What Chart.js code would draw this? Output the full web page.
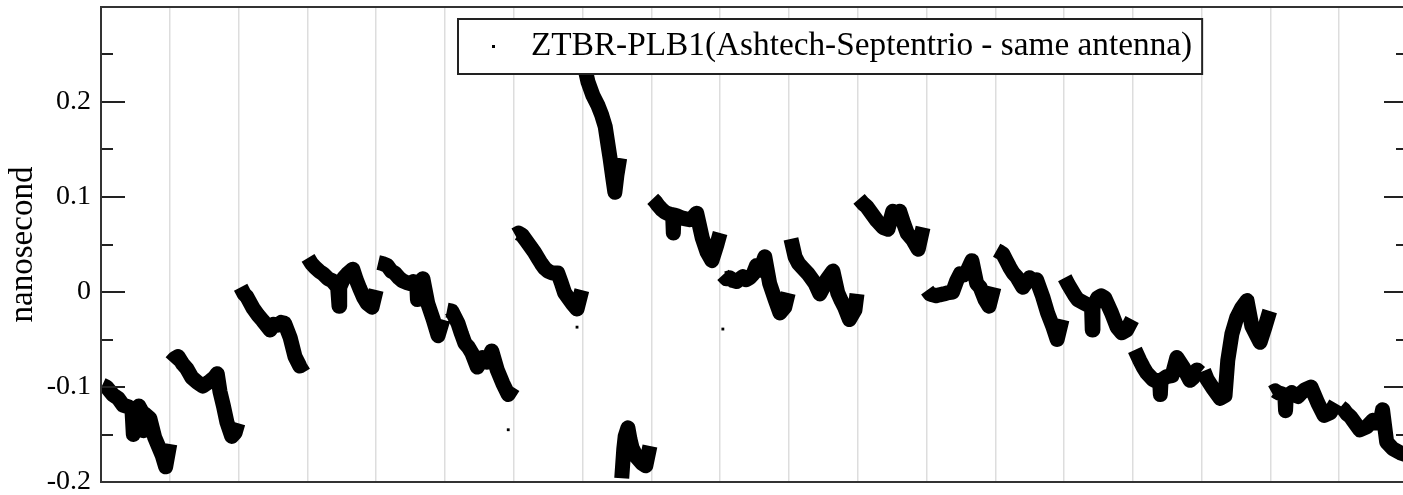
<!DOCTYPE html>
<html>
<head>
<meta charset="utf-8">
<script src="https://cdn.jsdelivr.net/npm/chart.js@4/dist/chart.umd.min.js"></script>
<style>
  html, body { margin: 0; padding: 0; background: #fff; overflow: hidden; }
  #wrap { width: 1420px; height: 495px; }
</style>
</head>
<body>
<div id="wrap"><canvas id="c" width="1420" height="495"></canvas></div>
<script>
// ---- Data: [time in days, offset in ns] ----
const seriesLabel = "ZTBR-PLB1(Ashtech-Septentrio - same antenna)";
const yTickValues = [-0.2, -0.1, 0, 0.1, 0.2];

const seg00 = [[0.02,-0.098],[0.08,-0.100],[0.17,-0.108],[0.25,-0.112],[0.32,-0.119],[0.40,-0.121],[0.45,-0.124],[0.47,-0.150],[0.48,-0.125],[0.55,-0.120],[0.61,-0.128],[0.62,-0.146],[0.63,-0.128],[0.71,-0.133],[0.78,-0.153],[0.85,-0.165],[0.89,-0.172],[0.94,-0.184],[1.00,-0.160]];
const seg01 = [[1.02,-0.074],[1.07,-0.070],[1.12,-0.068],[1.19,-0.076],[1.25,-0.081],[1.32,-0.090],[1.40,-0.095],[1.48,-0.099],[1.58,-0.094],[1.65,-0.090],[1.69,-0.086],[1.73,-0.105],[1.78,-0.120],[1.83,-0.137],[1.90,-0.152],[1.95,-0.148],[1.99,-0.138]];
const seg02 = [[2.03,0.005],[2.08,-0.002],[2.12,-0.005],[2.21,-0.017],[2.28,-0.024],[2.35,-0.030],[2.46,-0.040],[2.51,-0.034],[2.56,-0.035],[2.62,-0.032],[2.67,-0.033],[2.75,-0.048],[2.82,-0.068],[2.89,-0.078],[2.98,-0.074]];
const seg03 = [[3.01,0.036],[3.06,0.030],[3.11,0.026],[3.17,0.022],[3.23,0.019],[3.30,0.014],[3.36,0.012],[3.44,0.005],[3.46,-0.015],[3.47,0.005],[3.53,0.015],[3.58,0.019],[3.66,0.024],[3.71,0.013],[3.76,0.004],[3.82,-0.006],[3.87,-0.012],[3.94,-0.016],[4.00,0.002]];
const seg04 = [[4.03,0.031],[4.09,0.030],[4.16,0.028],[4.22,0.022],[4.27,0.020],[4.33,0.015],[4.38,0.012],[4.44,0.010],[4.49,0.009],[4.54,0.011],[4.59,0.008],[4.60,-0.008],[4.61,0.008],[4.68,0.014],[4.75,-0.012],[4.83,-0.029],[4.90,-0.046],[4.97,-0.029]];
const seg05 = [[5.03,-0.019],[5.10,-0.020],[5.19,-0.033],[5.24,-0.044],[5.29,-0.054],[5.34,-0.058],[5.39,-0.064],[5.47,-0.079],[5.54,-0.069],[5.61,-0.074],[5.68,-0.062],[5.76,-0.082],[5.84,-0.096],[5.92,-0.108],[5.99,-0.100]];
const seg06 = [[6.02,0.060],[6.07,0.062],[6.12,0.060],[6.18,0.054],[6.24,0.048],[6.30,0.042],[6.35,0.036],[6.40,0.030],[6.45,0.025],[6.50,0.022],[6.56,0.020],[6.64,0.020],[6.69,0.010],[6.74,-0.001],[6.80,-0.007],[6.85,-0.012],[6.92,-0.018],[6.99,0.002]];
const seg07a = [[7.02,0.240],[7.08,0.221],[7.15,0.207],[7.22,0.197],[7.28,0.186],[7.33,0.174],[7.37,0.155],[7.40,0.141],[7.44,0.120],[7.47,0.105],[7.50,0.123],[7.54,0.141]];
const seg07b = [[7.57,-0.196],[7.60,-0.165],[7.62,-0.152],[7.66,-0.143],[7.69,-0.155],[7.72,-0.164],[7.79,-0.174],[7.86,-0.180],[7.92,-0.183],[7.98,-0.162]];
const seg08 = [[8.02,0.098],[8.06,0.095],[8.10,0.091],[8.15,0.087],[8.20,0.084],[8.26,0.082],[8.31,0.081],[8.32,0.062],[8.33,0.081],[8.38,0.080],[8.44,0.078],[8.50,0.077],[8.56,0.076],[8.61,0.079],[8.66,0.083],[8.70,0.070],[8.74,0.057],[8.81,0.042],[8.88,0.033],[8.95,0.049],[9.00,0.062]];
const seg09 = [[9.04,0.018],[9.09,0.014],[9.14,0.015],[9.19,0.012],[9.24,0.011],[9.33,0.016],[9.38,0.013],[9.43,0.015],[9.48,0.019],[9.53,0.028],[9.58,0.023],[9.65,0.037],[9.72,0.009],[9.80,-0.008],[9.87,-0.022],[9.94,-0.016],[9.99,-0.001]];
const seg10 = [[10.03,0.056],[10.09,0.037],[10.14,0.030],[10.19,0.026],[10.28,0.019],[10.33,0.014],[10.38,0.009],[10.45,-0.002],[10.50,0.005],[10.55,0.013],[10.64,0.022],[10.71,-0.001],[10.76,-0.009],[10.81,-0.016],[10.88,-0.029],[10.96,-0.019],[10.99,-0.002]];
const seg11 = [[11.02,0.098],[11.08,0.093],[11.13,0.090],[11.18,0.085],[11.23,0.080],[11.28,0.075],[11.37,0.068],[11.44,0.066],[11.51,0.085],[11.56,0.083],[11.61,0.085],[11.67,0.072],[11.72,0.062],[11.80,0.055],[11.88,0.045],[11.95,0.068]];
const seg12 = [[12.01,0.002],[12.05,-0.002],[12.09,-0.003],[12.14,-0.004],[12.19,-0.003],[12.25,-0.002],[12.30,-0.001],[12.38,0.000],[12.44,0.012],[12.49,0.019],[12.54,0.018],[12.59,0.022],[12.66,0.033],[12.73,0.009],[12.78,0.005],[12.85,-0.008],[12.91,-0.015],[12.98,0.005]];
const seg13 = [[13.02,0.044],[13.07,0.042],[13.11,0.040],[13.16,0.033],[13.21,0.026],[13.26,0.020],[13.31,0.016],[13.40,0.005],[13.45,0.010],[13.50,0.015],[13.55,0.012],[13.60,0.013],[13.69,-0.005],[13.76,-0.022],[13.84,-0.037],[13.90,-0.050],[13.97,-0.029]];
const seg14 = [[14.01,0.015],[14.06,0.008],[14.11,0.002],[14.16,-0.004],[14.20,-0.008],[14.30,-0.012],[14.35,-0.014],[14.40,-0.016],[14.41,-0.040],[14.42,-0.016],[14.49,-0.006],[14.54,-0.004],[14.59,-0.006],[14.69,-0.022],[14.77,-0.037],[14.84,-0.043],[14.91,-0.040],[14.99,-0.029]];
const seg15 = [[15.03,-0.061],[15.10,-0.072],[15.15,-0.079],[15.20,-0.085],[15.29,-0.092],[15.34,-0.094],[15.39,-0.093],[15.40,-0.108],[15.41,-0.093],[15.49,-0.089],[15.57,-0.088],[15.64,-0.069],[15.73,-0.079],[15.83,-0.093],[15.88,-0.090],[15.93,-0.082],[15.98,-0.085]];
const seg16 = [[16.03,-0.083],[16.08,-0.092],[16.17,-0.102],[16.27,-0.112],[16.34,-0.109],[16.38,-0.072],[16.44,-0.044],[16.51,-0.027],[16.58,-0.017],[16.66,-0.009],[16.73,-0.036],[16.80,-0.046],[16.85,-0.053],[16.92,-0.037],[16.99,-0.020]];
const seg17 = [[17.02,-0.106],[17.07,-0.104],[17.11,-0.106],[17.16,-0.107],[17.21,-0.110],[17.22,-0.125],[17.23,-0.110],[17.31,-0.106],[17.35,-0.108],[17.40,-0.110],[17.45,-0.106],[17.50,-0.103],[17.59,-0.100],[17.69,-0.117],[17.78,-0.130],[17.87,-0.127],[17.95,-0.117]];
const seg18 = [[18.02,-0.121],[18.07,-0.124],[18.11,-0.128],[18.16,-0.131],[18.20,-0.135],[18.25,-0.140],[18.30,-0.145],[18.40,-0.142],[18.49,-0.135],[18.54,-0.138],[18.59,-0.138],[18.63,-0.124],[18.69,-0.158],[18.78,-0.165],[18.88,-0.169],[19.00,-0.172]];
const outliers = [[5.92,-0.145],[9.04,-0.039],[6.92,-0.037]];

const segments = [seg00,seg01,seg02,seg03,seg04,seg05,seg06,seg07a,seg07b,seg08,seg09,seg10,seg11,seg12,seg13,seg14,seg15,seg16,seg17,seg18];

const lineData = [];
segments.forEach((s, i) => {
  s.forEach(p => lineData.push({x: p[0], y: p[1]}));
  if (i < segments.length - 1) lineData.push({x: (s[s.length-1][0] + segments[i+1][0][0]) / 2, y: null});
});
const outlierData = outliers.map(p => ({x: p[0], y: p[1]}));

const SERIF = "'Liberation Serif', 'Times New Roman', serif";

const framePlugin = {
  id: 'frame',
  afterDraw(chart) {
    const ctx = chart.ctx, a = chart.chartArea, ys = chart.scales.y;
    ctx.save();
    // inner tick marks on left and right
    ctx.strokeStyle = '#222';
    ctx.lineWidth = 2;
    for (let k = -3; k <= 5; k++) {
      const v = k * 0.05;
      const y = Math.round(ys.getPixelForValue(v));
      const major = (k % 2 === 0);
      const len = major ? 24 : 12;
      ctx.beginPath();
      ctx.moveTo(a.left, y); ctx.lineTo(a.left + len, y);
      ctx.moveTo(a.right, y); ctx.lineTo(a.right - len, y);
      ctx.stroke();
    }
    // frame
    ctx.strokeStyle = '#333';
    ctx.lineWidth = 2;
    ctx.strokeRect(a.left, a.top, a.right - a.left, a.bottom - a.top);

    // legend box
    ctx.font = '33.3px ' + SERIF;
    const bx = a.left + 357, by = a.top + 12, bh = 55;
    const tx = bx + 73;
    const tw = ctx.measureText(seriesLabel).width;
    const bw = (tx - bx) + tw + 10;
    ctx.fillStyle = '#fff';
    ctx.fillRect(bx, by, bw, bh);
    ctx.strokeStyle = '#222';
    ctx.lineWidth = 2;
    ctx.strokeRect(bx, by, bw, bh);
    ctx.fillStyle = '#000';
    ctx.fillRect(bx + 34, by + 26, 3, 3);
    ctx.textBaseline = 'alphabetic';
    ctx.textAlign = 'left';
    ctx.fillText(seriesLabel, tx, by + 36);
    ctx.restore();
  }
};

new Chart(document.getElementById('c'), {
  type: 'line',
  data: {
    datasets: [
      {
        label: seriesLabel,
        data: lineData,
        borderColor: '#000',
        backgroundColor: '#000',
        borderWidth: 15,
        borderJoinStyle: 'round',
        borderCapStyle: 'butt',
        pointRadius: 0,
        tension: 0,
        spanGaps: false,
        fill: false
      },
      {
        label: 'outliers',
        data: outlierData,
        showLine: false,
        pointStyle: 'rect',
        pointRadius: 2,
        borderWidth: 0,
        backgroundColor: '#000',
        borderColor: '#000'
      }
    ]
  },
  options: {
    responsive: false,
    animation: false,
    devicePixelRatio: 1,
    layout: { padding: { left: 0, top: 7, right: 12, bottom: 13 } },
    plugins: { legend: { display: false }, tooltip: { enabled: false } },
    scales: {
      x: {
        type: 'linear',
        min: 0, max: 19,
        ticks: { display: false, stepSize: 1 },
        grid: { color: '#dddddd', lineWidth: 1.5, drawTicks: false },
        border: { display: false },
        afterFit(s) { s.height = 0; s.paddingLeft = 0; s.paddingRight = 0; s.paddingTop = 0; s.paddingBottom = 0; }
      },
      y: {
        min: -0.2, max: 0.3,
        afterBuildTicks(s) { s.ticks = yTickValues.map(v => ({value: v})); },
        ticks: {
          color: '#000',
          font: { family: SERIF, size: 28 },
          padding: 10,
          callback: (v) => String(Math.round(v * 10) / 10)
        },
        grid: { display: false, drawTicks: false },
        border: { display: false },
        title: {
          display: true,
          text: 'nanosecond',
          color: '#000',
          font: { family: SERIF, size: 33 },
          padding: { top: 4, bottom: 0 }
        },
        afterFit(s) { s.width = 101; s.paddingTop = 0; s.paddingBottom = 0; s.paddingLeft = 0; s.paddingRight = 0; }
      }
    }
  },
  plugins: [framePlugin]
});
</script>
</body>
</html>
